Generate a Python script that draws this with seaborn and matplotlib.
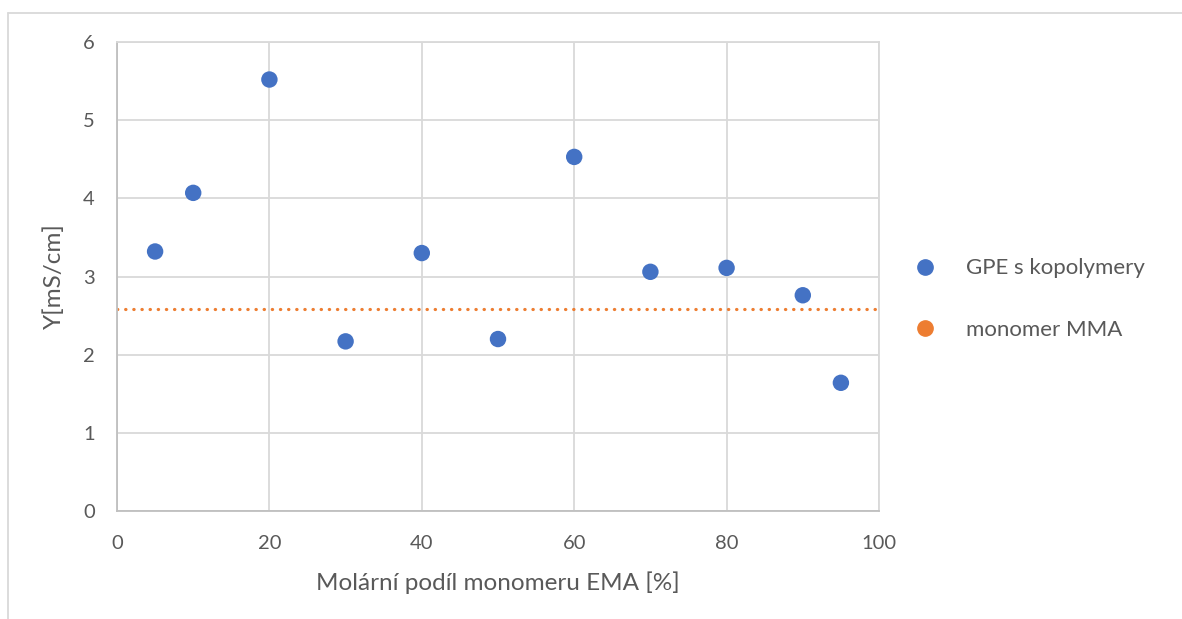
import matplotlib
matplotlib.use("Agg")
import matplotlib.pyplot as plt
from matplotlib.lines import Line2D
import seaborn as sns
import pandas as pd

# data
ema_share = [5, 10, 20, 30, 40, 50, 60, 70, 80, 90, 95]
conductivity = [3.32, 4.07, 5.52, 2.17, 3.30, 2.20, 4.53, 3.06, 3.11, 2.76, 1.64]
mma_level = 2.58

series_labels = ["GPE s kopolymery", "monomer MMA"]
x_ticks = [0, 20, 40, 60, 80, 100]
y_ticks = [0, 1, 2, 3, 4, 5, 6]

blue = "#4472C4"
orange = "#ED7D31"
text_gray = "#595959"
grid_gray = "#D9D9D9"

sns.set_style("white")
plt.rcParams["font.family"] = ["Lato", "DejaVu Sans"]

df = pd.DataFrame({"x": ema_share, "y": conductivity})

fig = plt.figure(figsize=(11.82, 6.19), dpi=100)
ax = fig.add_axes([117 / 1182, 1 - 511 / 619, (879 - 117) / 1182, (511 - 42) / 619])

sns.scatterplot(data=df, x="x", y="y", ax=ax, color=blue, s=140,
                edgecolor="none", zorder=3, legend=False)
ax.axhline(mma_level, color=orange, linewidth=2.3, linestyle=(0, (0.1, 2.45)),
           dash_capstyle="round", zorder=2)

ax.set_xlim(0, 100)
ax.set_ylim(0, 6)
ax.set_xticks(x_ticks)
ax.set_yticks(y_ticks)
ax.grid(True, color=grid_gray, linewidth=1.3)
ax.set_axisbelow(True)
for side in ["top", "right"]:
    ax.spines[side].set_color(grid_gray)
    ax.spines[side].set_linewidth(1.3)
for side in ["left", "bottom"]:
    ax.spines[side].set_color("#BFBFBF")
    ax.spines[side].set_linewidth(1.3)
ax.tick_params(axis="both", length=0, labelsize=14.5, labelcolor=text_gray)
ax.tick_params(axis="y", pad=16)
ax.tick_params(axis="x", pad=17)

ax.set_xlabel("Molární podíl monomeru EMA [%]", fontsize=17.5, color=text_gray, labelpad=14)
ax.set_ylabel("Y[mS/cm]", fontsize=17.5, color=text_gray, labelpad=13)

handles = [
    Line2D([], [], linestyle="none", marker="o", markersize=11, color=blue),
    Line2D([], [], linestyle="none", marker="o", markersize=11, color=orange),
]
leg = fig.legend(handles, series_labels, loc="center left",
                 bbox_to_anchor=(883 / 1182, 1 - 299 / 619), frameon=False,
                 fontsize=16, labelspacing=1.85, handletextpad=0.85,
                 labelcolor=text_gray)

# outer chart border (only top and left visible in the crop)
fig.add_artist(Line2D([8 / 1182, 1.0], [1 - 13 / 619, 1 - 13 / 619],
                      color=grid_gray, linewidth=1.3, transform=fig.transFigure))
fig.add_artist(Line2D([8 / 1182, 8 / 1182], [0.0, 1 - 13 / 619],
                      color=grid_gray, linewidth=1.3, transform=fig.transFigure))

fig.savefig("out.png", dpi=100, facecolor="white")
